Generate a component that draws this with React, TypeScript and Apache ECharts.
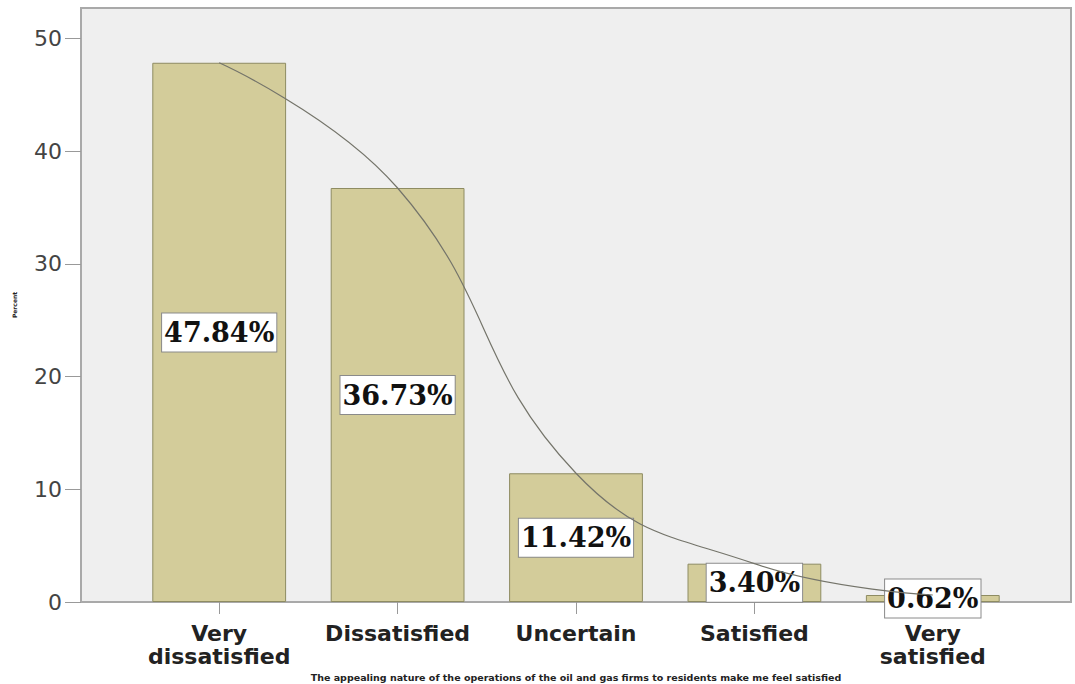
import React, { useEffect, useRef } from "react";
import * as echarts from "echarts";

// Response categories and the share of respondents in each
const categories = ["Very\ndissatisfied", "Dissatisfied", "Uncertain", "Satisfied", "Very\nsatisfied"];
const percents = [47.84, 36.73, 11.42, 3.4, 0.62];
const yTicks = [0, 10, 20, 30, 40, 50];

const xTitle =
  "The appealing nature of the operations of the oil and gas firms to residents make me feel satisfied";
const yTitle = "Percent";

const Y_MAX = 52.7;

export default function App() {
  const ref = useRef<HTMLDivElement>(null);

  useEffect(() => {
    if (!ref.current) return;
    const chart = echarts.init(ref.current, null, { renderer: "svg" });
    chart.setOption({
      animation: false,
      backgroundColor: "#ffffff",
      grid: [
        {
          // framed plot background holding the percent axis
          left: 81,
          top: 8,
          width: 990,
          height: 594,
          outerBoundsMode: "none",
          show: true,
          backgroundColor: "#efefef",
          borderColor: "#a9a9a9",
          borderWidth: 2,
        },
        {
          // inner band where the categories sit
          left: 130,
          top: 8,
          width: 892,
          height: 594,
          outerBoundsMode: "none",
        },
      ],
      xAxis: [
        { type: "value", gridIndex: 0, show: false, min: 0, max: 1 },
        {
          type: "category",
          gridIndex: 1,
          data: categories,
          axisLine: { show: false },
          axisTick: { show: true, alignWithLabel: true, length: 12, lineStyle: { color: "#999999", width: 1 } },
          axisLabel: {
            margin: 20,
            fontFamily: "DejaVu Sans",
            fontWeight: "bold",
            fontSize: 22,
            lineHeight: 23,
            color: "#222222",
            interval: 0,
          },
          name: xTitle,
          nameLocation: "middle",
          nameGap: 67,
          nameTextStyle: { fontFamily: "DejaVu Sans", fontWeight: "bold", fontSize: 9.5, color: "#222222" },
        },
      ],
      yAxis: [
        {
          type: "value",
          gridIndex: 0,
          min: 0,
          max: Y_MAX,
          interval: 10,
          splitLine: { show: false },
          axisLine: { show: false },
          axisTick: {
            show: true,
            length: 16,
            customValues: yTicks,
            lineStyle: { color: "#999999", width: 1 },
          },
          axisLabel: {
            customValues: yTicks,
            margin: 19,
            fontFamily: "DejaVu Sans",
            fontSize: 22,
            color: "#444444",
          },
          name: yTitle,
          nameLocation: "middle",
          nameRotate: 90,
          nameGap: 64,
          nameTextStyle: { fontFamily: "DejaVu Sans", fontWeight: "bold", fontSize: 6, color: "#222222" },
        },
        { type: "value", gridIndex: 1, min: 0, max: Y_MAX, show: false },
      ],
      series: [
        {
          type: "bar",
          xAxisIndex: 1,
          yAxisIndex: 1,
          data: percents,
          barCategoryGap: "25%",
          itemStyle: { color: "#d3cc9a", borderColor: "#8e8c62", borderWidth: 1 },
          label: {
            show: true,
            position: "inside",
            formatter: (p: any) => `${Number(p.value).toFixed(2)}%`,
            fontFamily: "DejaVu Serif",
            fontWeight: "bold",
            fontSize: 27,
            lineHeight: 30,
            color: "#111111",
            backgroundColor: "#ffffff",
            borderColor: "#8a8a8a",
            borderWidth: 1,
            padding: [4, 2],
          },
          z: 2,
        },
        {
          type: "line",
          xAxisIndex: 1,
          yAxisIndex: 1,
          data: percents,
          smooth: 0.45,
          showSymbol: false,
          lineStyle: { color: "#74746a", width: 1.2 },
          z: 3,
        },
      ],
    });
    return () => chart.dispose();
  }, []);

  return (
    <div
      ref={ref}
      style={{ position: "fixed", left: 0, top: 0, width: 1075, height: 684, background: "#ffffff" }}
    />
  );
}
